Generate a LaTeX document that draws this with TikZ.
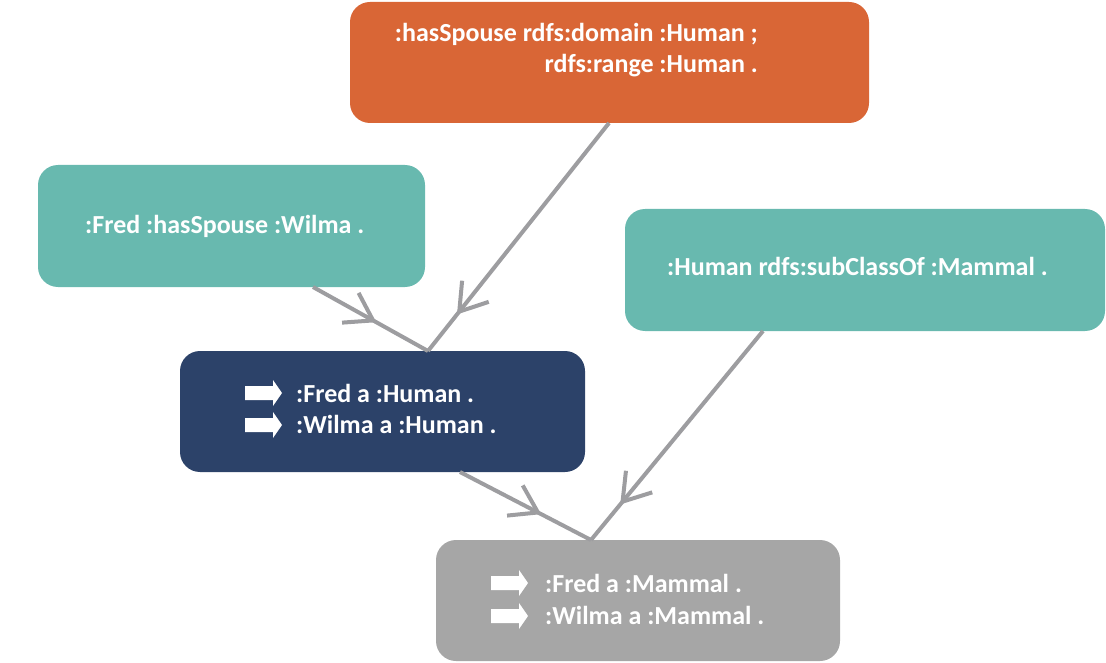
\documentclass[tikz,border=0pt]{standalone}
\usepackage{fontspec}
\setmainfont{Carlito}
\usetikzlibrary{arrows.meta,decorations.markings}
\definecolor{orangebox}{RGB}{217,102,54}
\definecolor{tealbox}{RGB}{104,185,175}
\definecolor{navybox}{RGB}{44,66,105}
\definecolor{graybox}{RGB}{166,166,166}
\definecolor{conncol}{RGB}{157,157,160}
\begin{document}
\begin{tikzpicture}[x=1pt,y=-1pt,
  box/.style={rounded corners=20pt, inner sep=0pt, outer sep=0pt, anchor=north west},
  txt/.style={text=white, font=\fontsize{26}{30}\selectfont\bfseries, inner sep=0pt},
  conn/.style={draw=conncol, line width=4pt, postaction={decorate}},
  markpos/.style={decoration={markings, mark=at position #1 with {\arrow{Straight Barb[length=26pt,width=34pt,line width=4pt]}}}},
  warr/.pic={\fill[white] (0,-7) -- (28,-7) -- (28,-13) -- (37,0) -- (28,13) -- (28,7) -- (0,7) -- cycle;}
]
\useasboundingbox (0,0) rectangle (1106,663);

% boxes
\node[box, fill=orangebox, minimum width=519pt, minimum height=121pt] (orange) at (350,2) {};
\node[box, fill=tealbox, minimum width=387pt, minimum height=122pt] (fred) at (38,165) {};
\node[box, fill=tealbox, minimum width=480pt, minimum height=122pt] (human) at (625,209) {};
\node[box, fill=navybox, minimum width=405pt, minimum height=121pt] (infer1) at (180,351) {};
\node[box, fill=graybox, minimum width=404pt, minimum height=121pt] (infer2) at (436,540) {};

% texts
\node[txt, anchor=base east] (t1) at (758,42) {:hasSpouse rdfs:domain :Human ;};
\node[txt, anchor=base east] (t2) at (758,73) {rdfs:range :Human .};
\node[txt, anchor=base west] (t3) at (85,234) {:Fred :hasSpouse :Wilma .};
\node[txt, anchor=base west] (t4) at (667,276) {:Human rdfs:subClassOf :Mammal .};
\node[txt, anchor=base west] (t5) at (296,402) {:Fred a :Human .};
\node[txt, anchor=base west] (t6) at (296,433) {:Wilma a :Human .};
\node[txt, anchor=base west] (t7) at (545,592) {:Fred a :Mammal .};
\node[txt, anchor=base west] (t8) at (545,624) {:Wilma a :Mammal .};

% white block arrows
\pic (a1) at (245,393) {warr};
\pic (a2) at (245,425) {warr};
\pic (a3) at (491,583) {warr};
\pic (a4) at (491,616) {warr};

% connector end points
\coordinate (o1) at (609,123);
\coordinate (f1) at (313,287);
\coordinate (j1) at (428,351);
\coordinate (h1) at (763,331);
\coordinate (n1) at (460,472);
\coordinate (j2) at (591,540);

% connectors
\draw[conn, markpos=0.84] (o1) -- (j1);
\draw[conn, markpos=0.55] (f1) -- (j1);
\draw[conn, markpos=0.62] (n1) -- (j2);
\draw[conn, markpos=0.83] (h1) -- (j2);
\end{tikzpicture}
\end{document}
